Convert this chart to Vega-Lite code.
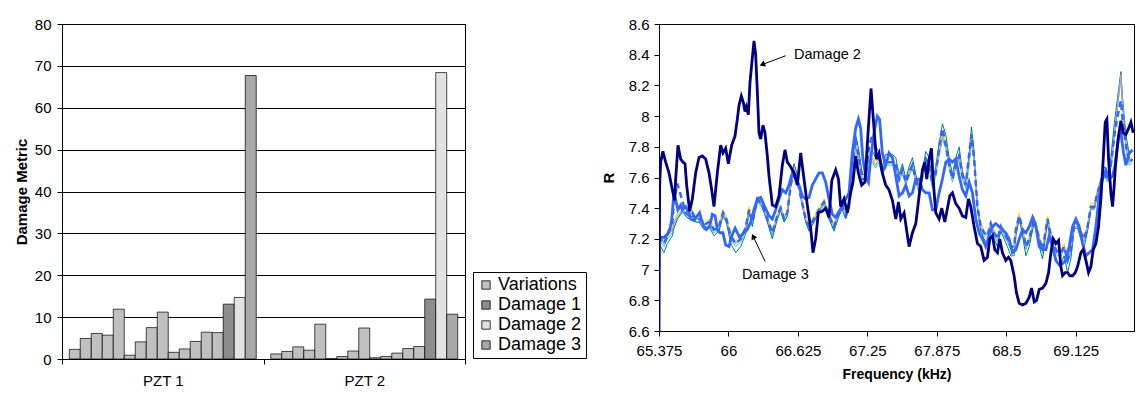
{
"$schema": "https://vega.github.io/schema/vega-lite/v6.json",
"padding": {"left": 13, "top": 16, "right": 0, "bottom": 0},
"background": "#ffffff",
"spacing": 134,
"config": {
  "font": "Liberation Sans",
  "view": {"stroke": "#000000", "strokeWidth": 1},
  "axis": {"labelFontSize": 15, "titleFontSize": 15, "labelColor": "#000000", "titleColor": "#000000", "domainColor": "#000000", "tickColor": "#000000", "tickSize": 5, "titleFontWeight": "bold", "labelFont": "Liberation Sans", "titleFont": "Liberation Sans"},
  "legend": {"labelFont": "Liberation Sans", "labelFontSize": 18, "labelColor": "#000000"}
},
"datasets": {
  "bars": [
    {"pzt":"PZT 1","bar":1,"type":"Variations","value":2.3},
    {"pzt":"PZT 1","bar":2,"type":"Variations","value":4.9},
    {"pzt":"PZT 1","bar":3,"type":"Variations","value":6.1},
    {"pzt":"PZT 1","bar":4,"type":"Variations","value":5.7},
    {"pzt":"PZT 1","bar":5,"type":"Variations","value":11.9},
    {"pzt":"PZT 1","bar":6,"type":"Variations","value":0.9},
    {"pzt":"PZT 1","bar":7,"type":"Variations","value":4.1},
    {"pzt":"PZT 1","bar":8,"type":"Variations","value":7.5},
    {"pzt":"PZT 1","bar":9,"type":"Variations","value":11.2},
    {"pzt":"PZT 1","bar":10,"type":"Variations","value":1.6},
    {"pzt":"PZT 1","bar":11,"type":"Variations","value":2.4},
    {"pzt":"PZT 1","bar":12,"type":"Variations","value":4.2},
    {"pzt":"PZT 1","bar":13,"type":"Variations","value":6.4},
    {"pzt":"PZT 1","bar":14,"type":"Variations","value":6.3},
    {"pzt":"PZT 1","bar":15,"type":"Damage 1","value":13.1},
    {"pzt":"PZT 1","bar":16,"type":"Damage 2","value":14.7},
    {"pzt":"PZT 1","bar":17,"type":"Damage 3","value":67.7},
    {"pzt":"PZT 2","bar":1,"type":"Variations","value":1.2},
    {"pzt":"PZT 2","bar":2,"type":"Variations","value":1.8},
    {"pzt":"PZT 2","bar":3,"type":"Variations","value":2.9},
    {"pzt":"PZT 2","bar":4,"type":"Variations","value":2.1},
    {"pzt":"PZT 2","bar":5,"type":"Variations","value":8.3},
    {"pzt":"PZT 2","bar":6,"type":"Variations","value":0.1},
    {"pzt":"PZT 2","bar":7,"type":"Variations","value":0.6},
    {"pzt":"PZT 2","bar":8,"type":"Variations","value":1.9},
    {"pzt":"PZT 2","bar":9,"type":"Variations","value":7.4},
    {"pzt":"PZT 2","bar":10,"type":"Variations","value":0.3},
    {"pzt":"PZT 2","bar":11,"type":"Variations","value":0.6},
    {"pzt":"PZT 2","bar":12,"type":"Variations","value":1.4},
    {"pzt":"PZT 2","bar":13,"type":"Variations","value":2.5},
    {"pzt":"PZT 2","bar":14,"type":"Variations","value":3.0},
    {"pzt":"PZT 2","bar":15,"type":"Damage 1","value":14.3},
    {"pzt":"PZT 2","bar":16,"type":"Damage 2","value":68.4},
    {"pzt":"PZT 2","bar":17,"type":"Damage 3","value":10.7}
  ],
  "d2": [
    {"f":65.375,"R":6.6},{"f":65.381,"R":7.55},{"f":65.39,"R":7.70},{"f":65.41,"R":7.77},{"f":65.435,"R":7.70},{"f":65.465,"R":7.63},{"f":65.495,"R":7.52},{"f":65.516,"R":7.45},{"f":65.525,"R":7.59},{"f":65.546,"R":7.81},{"f":65.57,"R":7.72},{"f":65.591,"R":7.70},{"f":65.609,"R":7.69},{"f":65.624,"R":7.55},{"f":65.651,"R":7.38},{"f":65.675,"R":7.46},{"f":65.705,"R":7.63},{"f":65.735,"R":7.73},{"f":65.765,"R":7.74},{"f":65.795,"R":7.72},{"f":65.825,"R":7.63},{"f":65.849,"R":7.52},{"f":65.87,"R":7.41},{"f":65.9,"R":7.63},{"f":65.93,"R":7.81},{"f":65.951,"R":7.76},{"f":65.975,"R":7.79},{"f":65.999,"R":7.69},{"f":66.029,"R":7.81},{"f":66.059,"R":7.87},{"f":66.08,"R":7.98},{"f":66.095,"R":8.07},{"f":66.116,"R":8.13},{"f":66.134,"R":8.09},{"f":66.149,"R":8.03},{"f":66.161,"R":8.06},{"f":66.179,"R":8.01},{"f":66.194,"R":8.22},{"f":66.215,"R":8.38},{"f":66.23,"R":8.49},{"f":66.245,"R":8.40},{"f":66.26,"R":8.16},{"f":66.275,"R":7.89},{"f":66.29,"R":7.85},{"f":66.311,"R":7.94},{"f":66.329,"R":7.89},{"f":66.35,"R":7.74},{"f":66.365,"R":7.61},{"f":66.395,"R":7.42},{"f":66.425,"R":7.41},{"f":66.455,"R":7.48},{"f":66.485,"R":7.68},{"f":66.509,"R":7.78},{"f":66.53,"R":7.70},{"f":66.56,"R":7.67},{"f":66.59,"R":7.63},{"f":66.62,"R":7.55},{"f":66.65,"R":7.76},{"f":66.68,"R":7.59},{"f":66.71,"R":7.42},{"f":66.74,"R":7.27},{"f":66.761,"R":7.11},{"f":66.785,"R":7.20},{"f":66.809,"R":7.37},{"f":66.845,"R":7.38},{"f":66.875,"R":7.40},{"f":66.905,"R":7.34},{"f":66.93,"R":7.58},{"f":66.965,"R":7.65},{"f":66.99,"R":7.59},{"f":67.01,"R":7.41},{"f":67.04,"R":7.46},{"f":67.07,"R":7.37},{"f":67.1,"R":7.50},{"f":67.121,"R":7.57},{"f":67.145,"R":7.74},{"f":67.169,"R":7.63},{"f":67.199,"R":7.55},{"f":67.229,"R":7.57},{"f":67.259,"R":7.92},{"f":67.283,"R":8.18},{"f":67.304,"R":7.98},{"f":67.331,"R":7.72},{"f":67.355,"R":7.76},{"f":67.385,"R":7.63},{"f":67.415,"R":7.55},{"f":67.445,"R":7.52},{"f":67.476,"R":7.45},{"f":67.506,"R":7.33},{"f":67.53,"R":7.44},{"f":67.551,"R":7.33},{"f":67.581,"R":7.37},{"f":67.611,"R":7.22},{"f":67.626,"R":7.15},{"f":67.656,"R":7.24},{"f":67.686,"R":7.30},{"f":67.716,"R":7.48},{"f":67.746,"R":7.65},{"f":67.767,"R":7.70},{"f":67.785,"R":7.59},{"f":67.806,"R":7.72},{"f":67.827,"R":7.79},{"f":67.842,"R":7.59},{"f":67.866,"R":7.37},{"f":67.896,"R":7.33},{"f":67.92,"R":7.40},{"f":67.947,"R":7.31},{"f":67.971,"R":7.40},{"f":67.992,"R":7.48},{"f":68.016,"R":7.50},{"f":68.046,"R":7.43},{"f":68.076,"R":7.40},{"f":68.106,"R":7.35},{"f":68.136,"R":7.34},{"f":68.16,"R":7.46},{"f":68.181,"R":7.41},{"f":68.211,"R":7.28},{"f":68.241,"R":7.17},{"f":68.271,"R":7.15},{"f":68.301,"R":7.06},{"f":68.331,"R":7.08},{"f":68.352,"R":7.20},{"f":68.376,"R":7.22},{"f":68.397,"R":7.13},{"f":68.421,"R":7.11},{"f":68.442,"R":7.20},{"f":68.466,"R":7.11},{"f":68.496,"R":7.06},{"f":68.52,"R":7.08},{"f":68.541,"R":7.06},{"f":68.571,"R":6.96},{"f":68.592,"R":6.85},{"f":68.617,"R":6.78},{"f":68.647,"R":6.77},{"f":68.677,"R":6.78},{"f":68.707,"R":6.82},{"f":68.728,"R":6.88},{"f":68.752,"R":6.79},{"f":68.773,"R":6.80},{"f":68.797,"R":6.87},{"f":68.827,"R":6.88},{"f":68.857,"R":6.91},{"f":68.881,"R":6.98},{"f":68.902,"R":7.11},{"f":68.923,"R":7.20},{"f":68.947,"R":7.17},{"f":68.971,"R":7.19},{"f":68.992,"R":7.02},{"f":69.007,"R":6.96},{"f":69.031,"R":6.98},{"f":69.052,"R":6.98},{"f":69.073,"R":6.96},{"f":69.097,"R":6.96},{"f":69.121,"R":6.98},{"f":69.142,"R":7.02},{"f":69.172,"R":7.11},{"f":69.193,"R":7.13},{"f":69.217,"R":7.06},{"f":69.241,"R":6.98},{"f":69.262,"R":7.02},{"f":69.283,"R":7.13},{"f":69.307,"R":7.17},{"f":69.331,"R":7.28},{"f":69.352,"R":7.46},{"f":69.373,"R":7.72},{"f":69.391,"R":7.96},{"f":69.406,"R":7.98},{"f":69.421,"R":7.72},{"f":69.442,"R":7.50},{"f":69.457,"R":7.41},{"f":69.472,"R":7.55},{"f":69.487,"R":7.72},{"f":69.511,"R":7.87},{"f":69.532,"R":7.97},{"f":69.553,"R":7.89},{"f":69.577,"R":7.88},{"f":69.601,"R":7.92},{"f":69.622,"R":7.96},{"f":69.643,"R":7.89}
  ],
  "d3": [
    {"f":65.375,"R":7.21},{"f":65.39,"R":7.21},{"f":65.42,"R":7.21},{"f":65.45,"R":7.23},{"f":65.475,"R":7.27},{"f":65.49,"R":7.33},{"f":65.5,"R":7.42},{"f":65.51,"R":7.50},{"f":65.53,"R":7.44},{"f":65.545,"R":7.39},{"f":65.57,"R":7.42},{"f":65.585,"R":7.39},{"f":65.615,"R":7.41},{"f":65.645,"R":7.37},{"f":65.66,"R":7.33},{"f":65.69,"R":7.32},{"f":65.72,"R":7.35},{"f":65.74,"R":7.37},{"f":65.755,"R":7.33},{"f":65.78,"R":7.28},{"f":65.8,"R":7.26},{"f":65.83,"R":7.28},{"f":65.855,"R":7.36},{"f":65.88,"R":7.35},{"f":65.9,"R":7.26},{"f":65.925,"R":7.24},{"f":65.95,"R":7.24},{"f":65.975,"R":7.16},{"f":66.005,"R":7.15},{"f":66.03,"R":7.22},{"f":66.06,"R":7.27},{"f":66.08,"R":7.24},{"f":66.1,"R":7.21},{"f":66.125,"R":7.23},{"f":66.17,"R":7.26},{"f":66.2,"R":7.31},{"f":66.23,"R":7.39},{"f":66.26,"R":7.46},{"f":66.29,"R":7.47},{"f":66.32,"R":7.42},{"f":66.365,"R":7.35},{"f":66.395,"R":7.33},{"f":66.425,"R":7.39},{"f":66.455,"R":7.46},{"f":66.485,"R":7.52},{"f":66.515,"R":7.50},{"f":66.545,"R":7.55},{"f":66.575,"R":7.63},{"f":66.605,"R":7.59},{"f":66.635,"R":7.55},{"f":66.665,"R":7.48},{"f":66.695,"R":7.46},{"f":66.725,"R":7.47},{"f":66.755,"R":7.55},{"f":66.785,"R":7.59},{"f":66.815,"R":7.63},{"f":66.845,"R":7.63},{"f":66.875,"R":7.57},{"f":66.905,"R":7.46},{"f":66.935,"R":7.36},{"f":66.965,"R":7.34},{"f":66.995,"R":7.38},{"f":67.025,"R":7.41},{"f":67.055,"R":7.46},{"f":67.085,"R":7.50},{"f":67.115,"R":7.76},{"f":67.145,"R":7.92},{"f":67.17,"R":7.98},{"f":67.19,"R":7.92},{"f":67.21,"R":7.72},{"f":67.235,"R":7.61},{"f":67.26,"R":7.57},{"f":67.28,"R":7.72},{"f":67.31,"R":7.89},{"f":67.34,"R":8.00},{"f":67.36,"R":7.98},{"f":67.385,"R":7.76},{"f":67.415,"R":7.68},{"f":67.445,"R":7.76},{"f":67.476,"R":7.73},{"f":67.506,"R":7.61},{"f":67.536,"R":7.48},{"f":67.566,"R":7.50},{"f":67.596,"R":7.55},{"f":67.626,"R":7.48},{"f":67.656,"R":7.50},{"f":67.686,"R":7.59},{"f":67.716,"R":7.59},{"f":67.746,"R":7.52},{"f":67.776,"R":7.50},{"f":67.806,"R":7.50},{"f":67.836,"R":7.39},{"f":67.866,"R":7.39},{"f":67.896,"R":7.50},{"f":67.926,"R":7.59},{"f":67.956,"R":7.70},{"f":67.986,"R":7.72},{"f":68.016,"R":7.70},{"f":68.046,"R":7.72},{"f":68.076,"R":7.61},{"f":68.106,"R":7.52},{"f":68.136,"R":7.48},{"f":68.166,"R":7.57},{"f":68.196,"R":7.50},{"f":68.226,"R":7.33},{"f":68.256,"R":7.24},{"f":68.286,"R":7.20},{"f":68.316,"R":7.15},{"f":68.346,"R":7.22},{"f":68.376,"R":7.28},{"f":68.406,"R":7.30},{"f":68.436,"R":7.28},{"f":68.466,"R":7.26},{"f":68.496,"R":7.24},{"f":68.526,"R":7.20},{"f":68.556,"R":7.11},{"f":68.587,"R":7.13},{"f":68.617,"R":7.20},{"f":68.647,"R":7.26},{"f":68.677,"R":7.24},{"f":68.707,"R":7.28},{"f":68.737,"R":7.34},{"f":68.767,"R":7.28},{"f":68.797,"R":7.15},{"f":68.827,"R":7.13},{"f":68.857,"R":7.13},{"f":68.887,"R":7.22},{"f":68.917,"R":7.15},{"f":68.947,"R":7.06},{"f":68.977,"R":7.03},{"f":69.007,"R":7.04},{"f":69.037,"R":7.06},{"f":69.067,"R":7.15},{"f":69.097,"R":7.28},{"f":69.127,"R":7.33},{"f":69.157,"R":7.28},{"f":69.187,"R":7.17},{"f":69.217,"R":7.09},{"f":69.247,"R":7.11},{"f":69.277,"R":7.13},{"f":69.307,"R":7.28},{"f":69.337,"R":7.48},{"f":69.367,"R":7.59},{"f":69.397,"R":7.65},{"f":69.427,"R":7.59},{"f":69.457,"R":7.61},{"f":69.487,"R":7.70},{"f":69.511,"R":7.87},{"f":69.532,"R":7.89},{"f":69.556,"R":7.76},{"f":69.577,"R":7.68},{"f":69.607,"R":7.76},{"f":69.637,"R":7.78}
  ],
  "lav": [
    {"f":65.375,"R":7.22},{"f":65.39,"R":7.20},{"f":65.42,"R":7.17},{"f":65.45,"R":7.22},{"f":65.495,"R":7.26},{"f":65.51,"R":7.30},{"f":65.54,"R":7.35},{"f":65.585,"R":7.39},{"f":65.615,"R":7.37},{"f":65.645,"R":7.35},{"f":65.675,"R":7.37},{"f":65.705,"R":7.33},{"f":65.735,"R":7.33},{"f":65.78,"R":7.29},{"f":65.825,"R":7.31},{"f":65.87,"R":7.26},{"f":65.915,"R":7.28},{"f":65.951,"R":7.37},{"f":65.981,"R":7.33},{"f":66.02,"R":7.22},{"f":66.065,"R":7.17},{"f":66.11,"R":7.20},{"f":66.155,"R":7.27},{"f":66.185,"R":7.39},{"f":66.215,"R":7.31},{"f":66.26,"R":7.46},{"f":66.305,"R":7.42},{"f":66.35,"R":7.33},{"f":66.395,"R":7.24},{"f":66.44,"R":7.35},{"f":66.47,"R":7.40},{"f":66.5,"R":7.33},{"f":66.53,"R":7.37},{"f":66.56,"R":7.55},{"f":66.59,"R":7.65},{"f":66.62,"R":7.59},{"f":66.65,"R":7.48},{"f":66.695,"R":7.33},{"f":66.725,"R":7.28},{"f":66.77,"R":7.33},{"f":66.815,"R":7.39},{"f":66.86,"R":7.44},{"f":66.905,"R":7.35},{"f":66.95,"R":7.28},{"f":66.995,"R":7.37},{"f":67.025,"R":7.41},{"f":67.055,"R":7.35},{"f":67.085,"R":7.41},{"f":67.115,"R":7.65},{"f":67.145,"R":7.81},{"f":67.175,"R":7.72},{"f":67.205,"R":7.59},{"f":67.235,"R":7.59},{"f":67.265,"R":7.70},{"f":67.295,"R":7.72},{"f":67.325,"R":7.68},{"f":67.355,"R":7.72},{"f":67.385,"R":7.63},{"f":67.415,"R":7.70},{"f":67.445,"R":7.70},{"f":67.476,"R":7.70},{"f":67.506,"R":7.68},{"f":67.536,"R":7.59},{"f":67.566,"R":7.65},{"f":67.596,"R":7.57},{"f":67.626,"R":7.63},{"f":67.656,"R":7.68},{"f":67.686,"R":7.59},{"f":67.716,"R":7.52},{"f":67.746,"R":7.61},{"f":67.776,"R":7.72},{"f":67.806,"R":7.68},{"f":67.836,"R":7.55},{"f":67.866,"R":7.63},{"f":67.896,"R":7.76},{"f":67.926,"R":7.87},{"f":67.956,"R":7.81},{"f":67.986,"R":7.68},{"f":68.016,"R":7.59},{"f":68.046,"R":7.68},{"f":68.076,"R":7.74},{"f":68.106,"R":7.61},{"f":68.136,"R":7.55},{"f":68.166,"R":7.70},{"f":68.187,"R":7.85},{"f":68.211,"R":7.72},{"f":68.241,"R":7.41},{"f":68.271,"R":7.28},{"f":68.301,"R":7.24},{"f":68.331,"R":7.22},{"f":68.361,"R":7.30},{"f":68.391,"R":7.24},{"f":68.421,"R":7.20},{"f":68.451,"R":7.28},{"f":68.481,"R":7.24},{"f":68.511,"R":7.20},{"f":68.541,"R":7.15},{"f":68.571,"R":7.15},{"f":68.587,"R":7.26},{"f":68.617,"R":7.35},{"f":68.647,"R":7.26},{"f":68.677,"R":7.15},{"f":68.707,"R":7.20},{"f":68.752,"R":7.33},{"f":68.797,"R":7.20},{"f":68.827,"R":7.13},{"f":68.872,"R":7.33},{"f":68.902,"R":7.22},{"f":68.932,"R":7.15},{"f":68.962,"R":7.11},{"f":68.992,"R":7.11},{"f":69.022,"R":7.15},{"f":69.052,"R":7.06},{"f":69.082,"R":7.13},{"f":69.112,"R":7.30},{"f":69.142,"R":7.30},{"f":69.172,"R":7.24},{"f":69.202,"R":7.20},{"f":69.232,"R":7.28},{"f":69.262,"R":7.41},{"f":69.292,"R":7.41},{"f":69.322,"R":7.50},{"f":69.352,"R":7.57},{"f":69.382,"R":7.63},{"f":69.412,"R":7.59},{"f":69.442,"R":7.68},{"f":69.472,"R":7.87},{"f":69.502,"R":8.07},{"f":69.532,"R":8.27},{"f":69.547,"R":8.07},{"f":69.577,"R":7.81},{"f":69.607,"R":7.70},{"f":69.637,"R":7.72}
  ],
  "teal": [
    {"f":65.375,"R":7.17},{"f":65.39,"R":7.15},{"f":65.42,"R":7.11},{"f":65.45,"R":7.17},{"f":65.495,"R":7.22},{"f":65.51,"R":7.27},{"f":65.54,"R":7.33},{"f":65.585,"R":7.38},{"f":65.615,"R":7.35},{"f":65.645,"R":7.33},{"f":65.675,"R":7.35},{"f":65.705,"R":7.31},{"f":65.735,"R":7.31},{"f":65.78,"R":7.26},{"f":65.825,"R":7.28},{"f":65.87,"R":7.22},{"f":65.915,"R":7.25},{"f":65.951,"R":7.35},{"f":65.981,"R":7.31},{"f":66.02,"R":7.17},{"f":66.065,"R":7.11},{"f":66.11,"R":7.15},{"f":66.155,"R":7.23},{"f":66.185,"R":7.38},{"f":66.215,"R":7.28},{"f":66.26,"R":7.46},{"f":66.305,"R":7.41},{"f":66.35,"R":7.31},{"f":66.395,"R":7.20},{"f":66.44,"R":7.33},{"f":66.47,"R":7.39},{"f":66.5,"R":7.31},{"f":66.53,"R":7.35},{"f":66.56,"R":7.57},{"f":66.59,"R":7.69},{"f":66.62,"R":7.62},{"f":66.65,"R":7.49},{"f":66.695,"R":7.31},{"f":66.725,"R":7.25},{"f":66.77,"R":7.31},{"f":66.815,"R":7.38},{"f":66.86,"R":7.44},{"f":66.905,"R":7.33},{"f":66.95,"R":7.25},{"f":66.995,"R":7.35},{"f":67.025,"R":7.40},{"f":67.055,"R":7.33},{"f":67.085,"R":7.40},{"f":67.115,"R":7.69},{"f":67.145,"R":7.88},{"f":67.175,"R":7.77},{"f":67.205,"R":7.62},{"f":67.235,"R":7.62},{"f":67.265,"R":7.75},{"f":67.295,"R":7.77},{"f":67.325,"R":7.73},{"f":67.355,"R":7.77},{"f":67.385,"R":7.67},{"f":67.415,"R":7.75},{"f":67.445,"R":7.75},{"f":67.476,"R":7.75},{"f":67.506,"R":7.73},{"f":67.536,"R":7.62},{"f":67.566,"R":7.69},{"f":67.596,"R":7.59},{"f":67.626,"R":7.67},{"f":67.656,"R":7.73},{"f":67.686,"R":7.62},{"f":67.716,"R":7.53},{"f":67.746,"R":7.64},{"f":67.776,"R":7.77},{"f":67.806,"R":7.73},{"f":67.836,"R":7.57},{"f":67.866,"R":7.67},{"f":67.896,"R":7.82},{"f":67.926,"R":7.95},{"f":67.956,"R":7.88},{"f":67.986,"R":7.73},{"f":68.016,"R":7.62},{"f":68.046,"R":7.73},{"f":68.076,"R":7.80},{"f":68.106,"R":7.64},{"f":68.136,"R":7.57},{"f":68.166,"R":7.75},{"f":68.187,"R":7.93},{"f":68.211,"R":7.77},{"f":68.241,"R":7.40},{"f":68.271,"R":7.25},{"f":68.301,"R":7.20},{"f":68.331,"R":7.17},{"f":68.361,"R":7.27},{"f":68.391,"R":7.20},{"f":68.421,"R":7.15},{"f":68.451,"R":7.25},{"f":68.481,"R":7.20},{"f":68.511,"R":7.15},{"f":68.541,"R":7.09},{"f":68.571,"R":7.09},{"f":68.587,"R":7.22},{"f":68.617,"R":7.33},{"f":68.647,"R":7.22},{"f":68.677,"R":7.09},{"f":68.707,"R":7.15},{"f":68.752,"R":7.31},{"f":68.797,"R":7.15},{"f":68.827,"R":7.07},{"f":68.872,"R":7.31},{"f":68.902,"R":7.17},{"f":68.932,"R":7.09},{"f":68.962,"R":7.04},{"f":68.992,"R":7.04},{"f":69.022,"R":7.09},{"f":69.052,"R":6.98},{"f":69.082,"R":7.07},{"f":69.112,"R":7.27},{"f":69.142,"R":7.27},{"f":69.172,"R":7.20},{"f":69.202,"R":7.15},{"f":69.232,"R":7.25},{"f":69.262,"R":7.40},{"f":69.292,"R":7.40},{"f":69.322,"R":7.51},{"f":69.352,"R":7.59},{"f":69.382,"R":7.67},{"f":69.412,"R":7.62},{"f":69.442,"R":7.73},{"f":69.472,"R":7.95},{"f":69.502,"R":8.12},{"f":69.532,"R":8.29},{"f":69.547,"R":8.12},{"f":69.577,"R":7.88},{"f":69.607,"R":7.75},{"f":69.637,"R":7.77}
  ],
  "yel": [
    {"f":65.375,"R":7.24},{"f":65.39,"R":7.22},{"f":65.42,"R":7.19},{"f":65.45,"R":7.24},{"f":65.495,"R":7.28},{"f":65.51,"R":7.32},{"f":65.54,"R":7.37},{"f":65.585,"R":7.41},{"f":65.615,"R":7.39},{"f":65.645,"R":7.37},{"f":65.675,"R":7.39},{"f":65.705,"R":7.35},{"f":65.735,"R":7.35},{"f":65.78,"R":7.31},{"f":65.825,"R":7.33},{"f":65.87,"R":7.28},{"f":65.915,"R":7.30},{"f":65.951,"R":7.39},{"f":65.981,"R":7.35},{"f":66.02,"R":7.24},{"f":66.065,"R":7.19},{"f":66.11,"R":7.22},{"f":66.155,"R":7.29},{"f":66.185,"R":7.41},{"f":66.215,"R":7.33},{"f":66.26,"R":7.48},{"f":66.305,"R":7.44},{"f":66.35,"R":7.35},{"f":66.395,"R":7.26},{"f":66.44,"R":7.37},{"f":66.47,"R":7.42},{"f":66.5,"R":7.35},{"f":66.53,"R":7.39},{"f":66.56,"R":7.57},{"f":66.59,"R":7.67},{"f":66.62,"R":7.61},{"f":66.65,"R":7.50},{"f":66.695,"R":7.35},{"f":66.725,"R":7.30},{"f":66.77,"R":7.35},{"f":66.815,"R":7.41},{"f":66.86,"R":7.46},{"f":66.905,"R":7.37},{"f":66.95,"R":7.30},{"f":66.995,"R":7.39},{"f":67.025,"R":7.43},{"f":67.055,"R":7.37},{"f":67.085,"R":7.43},{"f":67.115,"R":7.67},{"f":67.145,"R":7.83},{"f":67.175,"R":7.74},{"f":67.205,"R":7.61},{"f":67.235,"R":7.61},{"f":67.265,"R":7.72},{"f":67.295,"R":7.74},{"f":67.325,"R":7.70},{"f":67.355,"R":7.74},{"f":67.385,"R":7.65},{"f":67.415,"R":7.72},{"f":67.445,"R":7.72},{"f":67.476,"R":7.72},{"f":67.506,"R":7.70},{"f":67.536,"R":7.61},{"f":67.566,"R":7.67},{"f":67.596,"R":7.59},{"f":67.626,"R":7.65},{"f":67.656,"R":7.70},{"f":67.686,"R":7.61},{"f":67.716,"R":7.54},{"f":67.746,"R":7.63},{"f":67.776,"R":7.74},{"f":67.806,"R":7.70},{"f":67.836,"R":7.57},{"f":67.866,"R":7.65},{"f":67.896,"R":7.78},{"f":67.926,"R":7.89},{"f":67.956,"R":7.83},{"f":67.986,"R":7.70},{"f":68.016,"R":7.61},{"f":68.046,"R":7.70},{"f":68.076,"R":7.76},{"f":68.106,"R":7.63},{"f":68.136,"R":7.57},{"f":68.166,"R":7.72},{"f":68.187,"R":7.87},{"f":68.211,"R":7.74},{"f":68.241,"R":7.43},{"f":68.271,"R":7.30},{"f":68.301,"R":7.26},{"f":68.331,"R":7.24},{"f":68.361,"R":7.32},{"f":68.391,"R":7.26},{"f":68.421,"R":7.22},{"f":68.451,"R":7.30},{"f":68.481,"R":7.26},{"f":68.511,"R":7.22},{"f":68.541,"R":7.17},{"f":68.571,"R":7.17},{"f":68.587,"R":7.28},{"f":68.617,"R":7.37},{"f":68.647,"R":7.28},{"f":68.677,"R":7.17},{"f":68.707,"R":7.22},{"f":68.752,"R":7.35},{"f":68.797,"R":7.22},{"f":68.827,"R":7.15},{"f":68.872,"R":7.35},{"f":68.902,"R":7.24},{"f":68.932,"R":7.17},{"f":68.962,"R":7.13},{"f":68.992,"R":7.13},{"f":69.022,"R":7.17},{"f":69.052,"R":7.08},{"f":69.082,"R":7.15},{"f":69.112,"R":7.32},{"f":69.142,"R":7.32},{"f":69.172,"R":7.26},{"f":69.202,"R":7.22},{"f":69.232,"R":7.30},{"f":69.262,"R":7.43},{"f":69.292,"R":7.43},{"f":69.322,"R":7.52},{"f":69.352,"R":7.59},{"f":69.382,"R":7.65},{"f":69.412,"R":7.61},{"f":69.442,"R":7.70},{"f":69.472,"R":7.89},{"f":69.502,"R":8.09},{"f":69.532,"R":8.28},{"f":69.547,"R":8.09},{"f":69.577,"R":7.83},{"f":69.607,"R":7.72},{"f":69.637,"R":7.74}
  ],
  "cyan": [
    {"f":65.375,"R":7.20},{"f":65.39,"R":7.18},{"f":65.42,"R":7.15},{"f":65.45,"R":7.20},{"f":65.495,"R":7.24},{"f":65.51,"R":7.28},{"f":65.54,"R":7.33},{"f":65.585,"R":7.37},{"f":65.615,"R":7.35},{"f":65.645,"R":7.33},{"f":65.675,"R":7.35},{"f":65.705,"R":7.31},{"f":65.735,"R":7.31},{"f":65.78,"R":7.27},{"f":65.825,"R":7.29},{"f":65.87,"R":7.24},{"f":65.915,"R":7.26},{"f":65.951,"R":7.35},{"f":65.981,"R":7.31},{"f":66.02,"R":7.20},{"f":66.065,"R":7.15},{"f":66.11,"R":7.18},{"f":66.155,"R":7.25},{"f":66.185,"R":7.37},{"f":66.215,"R":7.29},{"f":66.26,"R":7.44},{"f":66.305,"R":7.40},{"f":66.35,"R":7.31},{"f":66.395,"R":7.22},{"f":66.44,"R":7.33},{"f":66.47,"R":7.38},{"f":66.5,"R":7.31},{"f":66.53,"R":7.35},{"f":66.56,"R":7.53},{"f":66.59,"R":7.63},{"f":66.62,"R":7.57},{"f":66.65,"R":7.46},{"f":66.695,"R":7.31},{"f":66.725,"R":7.26},{"f":66.77,"R":7.31},{"f":66.815,"R":7.37},{"f":66.86,"R":7.42},{"f":66.905,"R":7.33},{"f":66.95,"R":7.26},{"f":66.995,"R":7.35},{"f":67.025,"R":7.39},{"f":67.055,"R":7.33},{"f":67.085,"R":7.39},{"f":67.115,"R":7.63},{"f":67.145,"R":7.79},{"f":67.175,"R":7.70},{"f":67.205,"R":7.57},{"f":67.235,"R":7.57},{"f":67.265,"R":7.68},{"f":67.295,"R":7.70},{"f":67.325,"R":7.66},{"f":67.355,"R":7.70},{"f":67.385,"R":7.61},{"f":67.415,"R":7.68},{"f":67.445,"R":7.68},{"f":67.476,"R":7.68},{"f":67.506,"R":7.66},{"f":67.536,"R":7.57},{"f":67.566,"R":7.63},{"f":67.596,"R":7.55},{"f":67.626,"R":7.61},{"f":67.656,"R":7.66},{"f":67.686,"R":7.57},{"f":67.716,"R":7.50},{"f":67.746,"R":7.59},{"f":67.776,"R":7.70},{"f":67.806,"R":7.66},{"f":67.836,"R":7.53},{"f":67.866,"R":7.61},{"f":67.896,"R":7.74},{"f":67.926,"R":7.85},{"f":67.956,"R":7.79},{"f":67.986,"R":7.66},{"f":68.016,"R":7.57},{"f":68.046,"R":7.66},{"f":68.076,"R":7.72},{"f":68.106,"R":7.59},{"f":68.136,"R":7.53},{"f":68.166,"R":7.68},{"f":68.187,"R":7.83},{"f":68.211,"R":7.70},{"f":68.241,"R":7.39},{"f":68.271,"R":7.26},{"f":68.301,"R":7.22},{"f":68.331,"R":7.20},{"f":68.361,"R":7.28},{"f":68.391,"R":7.22},{"f":68.421,"R":7.18},{"f":68.451,"R":7.26},{"f":68.481,"R":7.22},{"f":68.511,"R":7.18},{"f":68.541,"R":7.13},{"f":68.571,"R":7.13},{"f":68.587,"R":7.24},{"f":68.617,"R":7.33},{"f":68.647,"R":7.24},{"f":68.677,"R":7.13},{"f":68.707,"R":7.18},{"f":68.752,"R":7.31},{"f":68.797,"R":7.18},{"f":68.827,"R":7.11},{"f":68.872,"R":7.31},{"f":68.902,"R":7.20},{"f":68.932,"R":7.13},{"f":68.962,"R":7.09},{"f":68.992,"R":7.09},{"f":69.022,"R":7.13},{"f":69.052,"R":7.04},{"f":69.082,"R":7.11},{"f":69.112,"R":7.28},{"f":69.142,"R":7.28},{"f":69.172,"R":7.22},{"f":69.202,"R":7.18},{"f":69.232,"R":7.26},{"f":69.262,"R":7.39},{"f":69.292,"R":7.39},{"f":69.322,"R":7.48},{"f":69.352,"R":7.55},{"f":69.382,"R":7.61},{"f":69.412,"R":7.57},{"f":69.442,"R":7.66},{"f":69.472,"R":7.85},{"f":69.502,"R":8.05},{"f":69.532,"R":8.24},{"f":69.547,"R":8.05},{"f":69.577,"R":7.79},{"f":69.607,"R":7.68},{"f":69.637,"R":7.70}
  ],
  "d1": [
    {"f":65.375,"R":7.22},{"f":65.39,"R":7.20},{"f":65.42,"R":7.17},{"f":65.45,"R":7.22},{"f":65.495,"R":7.30},{"f":65.51,"R":7.45},{"f":65.54,"R":7.56},{"f":65.585,"R":7.45},{"f":65.615,"R":7.37},{"f":65.645,"R":7.35},{"f":65.675,"R":7.37},{"f":65.705,"R":7.33},{"f":65.735,"R":7.33},{"f":65.78,"R":7.29},{"f":65.825,"R":7.31},{"f":65.87,"R":7.26},{"f":65.915,"R":7.28},{"f":65.951,"R":7.37},{"f":65.981,"R":7.33},{"f":66.02,"R":7.22},{"f":66.065,"R":7.17},{"f":66.11,"R":7.20},{"f":66.155,"R":7.27},{"f":66.185,"R":7.39},{"f":66.215,"R":7.31},{"f":66.26,"R":7.46},{"f":66.305,"R":7.42},{"f":66.35,"R":7.33},{"f":66.395,"R":7.24},{"f":66.44,"R":7.35},{"f":66.47,"R":7.40},{"f":66.5,"R":7.33},{"f":66.53,"R":7.37},{"f":66.56,"R":7.55},{"f":66.59,"R":7.65},{"f":66.62,"R":7.59},{"f":66.65,"R":7.48},{"f":66.695,"R":7.33},{"f":66.725,"R":7.28},{"f":66.77,"R":7.33},{"f":66.815,"R":7.39},{"f":66.86,"R":7.44},{"f":66.905,"R":7.35},{"f":66.95,"R":7.28},{"f":66.995,"R":7.37},{"f":67.025,"R":7.41},{"f":67.055,"R":7.35},{"f":67.085,"R":7.41},{"f":67.115,"R":7.70},{"f":67.145,"R":7.85},{"f":67.175,"R":7.72},{"f":67.205,"R":7.59},{"f":67.235,"R":7.59},{"f":67.265,"R":7.80},{"f":67.295,"R":7.88},{"f":67.325,"R":7.80},{"f":67.355,"R":7.72},{"f":67.385,"R":7.63},{"f":67.415,"R":7.70},{"f":67.445,"R":7.70},{"f":67.476,"R":7.70},{"f":67.506,"R":7.68},{"f":67.536,"R":7.59},{"f":67.566,"R":7.65},{"f":67.596,"R":7.57},{"f":67.626,"R":7.63},{"f":67.656,"R":7.68},{"f":67.686,"R":7.59},{"f":67.716,"R":7.52},{"f":67.746,"R":7.61},{"f":67.776,"R":7.72},{"f":67.806,"R":7.68},{"f":67.836,"R":7.55},{"f":67.866,"R":7.63},{"f":67.896,"R":7.80},{"f":67.926,"R":7.92},{"f":67.956,"R":7.81},{"f":67.986,"R":7.68},{"f":68.016,"R":7.59},{"f":68.046,"R":7.68},{"f":68.076,"R":7.74},{"f":68.106,"R":7.61},{"f":68.136,"R":7.55},{"f":68.166,"R":7.75},{"f":68.187,"R":7.88},{"f":68.211,"R":7.72},{"f":68.241,"R":7.41},{"f":68.271,"R":7.28},{"f":68.301,"R":7.24},{"f":68.331,"R":7.22},{"f":68.361,"R":7.30},{"f":68.391,"R":7.24},{"f":68.421,"R":7.20},{"f":68.451,"R":7.28},{"f":68.481,"R":7.24},{"f":68.511,"R":7.20},{"f":68.541,"R":7.15},{"f":68.571,"R":7.15},{"f":68.587,"R":7.26},{"f":68.617,"R":7.35},{"f":68.647,"R":7.26},{"f":68.677,"R":7.15},{"f":68.707,"R":7.20},{"f":68.752,"R":7.33},{"f":68.797,"R":7.20},{"f":68.827,"R":7.13},{"f":68.872,"R":7.33},{"f":68.902,"R":7.22},{"f":68.932,"R":7.15},{"f":68.962,"R":7.11},{"f":68.992,"R":7.11},{"f":69.022,"R":7.15},{"f":69.052,"R":7.06},{"f":69.082,"R":7.13},{"f":69.112,"R":7.30},{"f":69.142,"R":7.30},{"f":69.172,"R":7.24},{"f":69.202,"R":7.20},{"f":69.232,"R":7.28},{"f":69.262,"R":7.41},{"f":69.292,"R":7.41},{"f":69.322,"R":7.50},{"f":69.352,"R":7.57},{"f":69.382,"R":7.63},{"f":69.412,"R":7.59},{"f":69.442,"R":7.68},{"f":69.472,"R":7.87},{"f":69.502,"R":8.00},{"f":69.532,"R":8.10},{"f":69.547,"R":7.98},{"f":69.577,"R":7.81},{"f":69.607,"R":7.70},{"f":69.637,"R":7.72}
  ]
},
"hconcat": [
  {
    "width": 403,
    "height": 335,
    "data": {"name": "bars"},
    "mark": {"type": "bar", "stroke": "#000000", "strokeWidth": 0.7},
    "encoding": {
      "x": {"field": "pzt", "type": "nominal", "scale": {"paddingInner": 0, "paddingOuter": 0},
            "axis": {"title": null, "labelAngle": 0, "tickBand": "extent", "labelPadding": 9, "grid": false}},
      "xOffset": {"field": "bar", "type": "ordinal", "scale": {"paddingInner": 0, "paddingOuter": 0.66}},
      "y": {"field": "value", "type": "quantitative", "scale": {"domain": [0, 80], "nice": false},
            "axis": {"title": "Damage Metric", "values": [0,10,20,30,40,50,60,70,80], "grid": true, "gridColor": "#000000", "gridOpacity": 1, "labelPadding": 6, "titlePadding": 5}},
      "color": {"field": "type", "type": "nominal",
                "scale": {"domain": ["Variations", "Damage 1", "Damage 2", "Damage 3"], "range": ["#c0c0c0", "#8c8c8c", "#e2e2e2", "#a8a8a8"]},
                "legend": {"title": null, "orient": "none", "legendX": 411, "legendY": 248, "strokeColor": "#000000", "fillColor": "#ffffff", "padding": 4, "symbolType": "square", "symbolSize": 70, "symbolStrokeColor": "#000000", "symbolStrokeWidth": 0.8, "labelOffset": 3, "rowPadding": 2}}
    }
  },
  {
    "width": 475,
    "height": 307,
    "encoding": {
      "x": {"field": "f", "type": "quantitative", "scale": {"domain": [65.375, 69.65], "nice": false, "zero": false},
            "axis": {"title": "Frequency (kHz)", "values": [65.375, 66, 66.625, 67.25, 67.875, 68.5, 69.125], "format": ".5~g", "labelOverlap": false, "labelFlush": false, "grid": false, "labelPadding": 7, "titlePadding": 9, "titleFontSize": 14}},
      "y": {"field": "R", "type": "quantitative", "scale": {"domain": [6.6, 8.6], "nice": false, "zero": false},
            "axis": {"title": "R", "values": [6.6, 6.8, 7, 7.2, 7.4, 7.6, 7.8, 8, 8.2, 8.4, 8.6], "format": ".3~g", "labelOverlap": false, "grid": false, "labelPadding": 5, "titlePadding": 12}}
    },
    "layer": [
      {"data": {"name": "yel"}, "mark": {"type": "line", "color": "#e8e800", "strokeWidth": 1, "clip": true}},
      {"data": {"name": "cyan"}, "mark": {"type": "line", "color": "#33cccc", "strokeWidth": 1, "clip": true}},
      {"data": {"name": "teal"}, "mark": {"type": "line", "color": "#008080", "strokeWidth": 1, "clip": true}},
      {"data": {"name": "lav"}, "mark": {"type": "line", "color": "#b89ad6", "strokeWidth": 1.2, "clip": true}},
      {"data": {"name": "d1"}, "mark": {"type": "line", "color": "#3366ff", "strokeWidth": 2.5, "strokeDash": [6, 4], "clip": true}},
      {"data": {"name": "d3"}, "mark": {"type": "line", "color": "#3366ff", "strokeWidth": 2.8, "clip": true}},
      {"data": {"name": "d2"}, "mark": {"type": "line", "color": "#000080", "strokeWidth": 2.8, "clip": true}},
      {"data": {"values": [{"label": "Damage 2", "f": 66.891, "R": 8.40}, {"label": "Damage 3", "f": 66.422, "R": 6.967}]},
       "mark": {"type": "text", "fontSize": 14.5, "align": "center", "baseline": "middle", "color": "#000000", "font": "Liberation Sans"},
       "encoding": {"text": {"field": "label"}}},
      {"data": {"values": [{"f": 66.515, "R": 8.393, "f2": 66.305, "R2": 8.336}, {"f": 66.330, "R": 7.053, "f2": 66.222, "R2": 7.217}]},
       "mark": {"type": "rule", "color": "#000000", "strokeWidth": 1},
       "encoding": {"x2": {"field": "f2"}, "y2": {"field": "R2"}}},
      {"data": {"values": [{"f": 66.312, "R": 8.338}]},
       "mark": {"type": "point", "shape": "triangle", "filled": true, "color": "#000000", "size": 40, "angle": 249.5, "opacity": 1}},
      {"data": {"values": [{"f": 66.226, "R": 7.210}]},
       "mark": {"type": "point", "shape": "triangle", "filled": true, "color": "#000000", "size": 40, "angle": 334, "opacity": 1}}
    ]
  }
]
}
